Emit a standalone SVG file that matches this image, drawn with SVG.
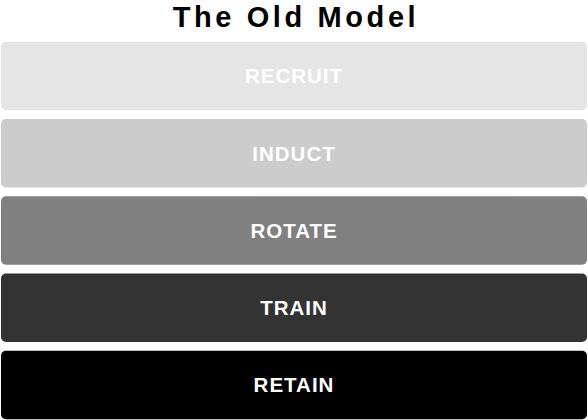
<svg xmlns="http://www.w3.org/2000/svg" width="588" height="420" viewBox="0 0 588 420">
<style>
.bar{stroke:none}
.lbl{font-family:"Liberation Sans",Arial,sans-serif;font-weight:bold;font-size:20.5px;fill:#fff;text-anchor:middle;letter-spacing:1px}
.title{font-family:"Liberation Sans",Arial,sans-serif;font-weight:bold;font-size:29px;fill:#000;text-anchor:middle;letter-spacing:3.6px}
</style>
<rect width="588" height="420" fill="#fff"/>
<text class="title" x="296" y="27">The Old Model</text>
<g id="recruit"><rect class="bar" x="1" y="41.7" width="586" height="68.5" rx="5" fill="#e5e5e5"/><text class="lbl" x="294" y="83.3">RECRUIT</text></g>
<g id="induct"><rect class="bar" x="1" y="119" width="586" height="68.5" rx="5" fill="#cccccc"/><text class="lbl" x="294" y="160.6">INDUCT</text></g>
<g id="rotate"><rect class="bar" x="1" y="196.2" width="586" height="68.5" rx="5" fill="#808080"/><text class="lbl" x="294" y="237.8">ROTATE</text></g>
<g id="train"><rect class="bar" x="1" y="273.5" width="586" height="68.5" rx="5" fill="#333333"/><text class="lbl" x="294" y="315.1">TRAIN</text></g>
<g id="retain"><rect class="bar" x="1" y="350.7" width="586" height="68.5" rx="5" fill="#000000"/><text class="lbl" x="294" y="392.3">RETAIN</text></g>
<g id="connectors"/>
</svg>
